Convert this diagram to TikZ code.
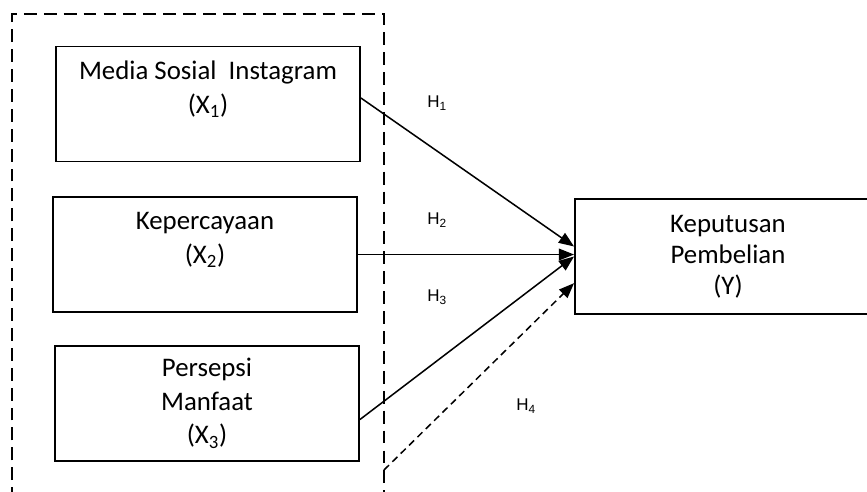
\documentclass[tikz,border=0pt]{standalone}
\usepackage{fontspec}
\setmainfont{Carlito}
\newfontfamily\hypfont{Liberation Sans}
\usetikzlibrary{arrows.meta}

\begin{document}
\begin{tikzpicture}[x=0.03cm, y=-0.03cm,
    varbox/.style={draw, line width=1.6pt, minimum width=9.12cm, minimum height=3.45cm,
        align=center, inner sep=0pt, font=\fontsize{22.9}{28.6}\selectfont},
    hyp/.style={font=\hypfont\fontsize{14.5}{16}\selectfont},
    link/.style={line width=1.3pt, -{Triangle[length=13pt,width=10pt]}},
    groupline/.style={line width=1.3pt, dash pattern=on 11pt off 6pt}]
    \useasboundingbox (0,0) rectangle (867,491);
    \clip (0,0) rectangle (867,491);

    % Independent variables
    \node[varbox] (mediasosial) at (208,104) {Media Sosial\ \ Instagram\\(X\textsubscript{1})\\~};
    \node[varbox] (kepercayaan) at (205,254.5) {Kepercayaan\\(X\textsubscript{2})\\~};
    \node[varbox] (persepsi) at (207,403.5) {Persepsi\\Manfaat\\(X\textsubscript{3})};

    % Dependent variable
    \node[varbox, minimum width=9.18cm, font=\fontsize{22.9}{26.5}\selectfont] (keputusan) at (728,256.5)
        {Keputusan\\Pembelian\\(Y)};

    % Dashed frame around the X variables
    \draw[groupline] (12,520) -- (12,14) -- (384,14) -- (384,520);
    \coordinate (h4start) at (384,470);

    % Hypotheses
    \draw[link] ([yshift=0.18cm]mediasosial.east) -- ([yshift=0.3cm]keputusan.west);
    \draw[link] (kepercayaan.east) -- (kepercayaan.east -| keputusan.west);
    \draw[link] ([yshift=-0.48cm]persepsi.east) -- (keputusan.west);
    \draw[link, dash pattern=on 6pt off 4pt] (h4start) -- ([yshift=-0.8cm]keputusan.west);

    \node[hyp] (h1) at (437,103) {H\textsubscript{1}};
    \node[hyp] (h2) at (437,220) {H\textsubscript{2}};
    \node[hyp] (h3) at (437,297) {H\textsubscript{3}};
    \node[hyp] (h4) at (526,406) {H\textsubscript{4}};
\end{tikzpicture}
\end{document}
